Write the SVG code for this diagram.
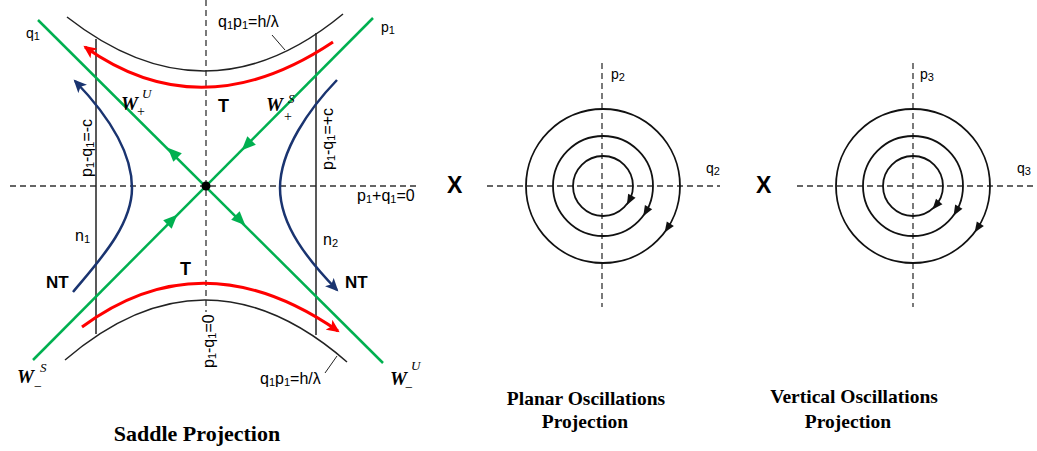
<svg xmlns="http://www.w3.org/2000/svg" width="1037" height="451" viewBox="0 0 1037 451">
<style>
.dash{stroke:#333;stroke-width:1.3;stroke-dasharray:6 4;fill:none}
.blk{stroke:#222;stroke-width:1.5;fill:none}
.grn{stroke:#00b050;stroke-width:2.5;fill:none}
.red{stroke:#ff0000;stroke-width:3;fill:none}
.nav{stroke:#1a3470;stroke-width:2.5;fill:none}
.circ{stroke:#111;stroke-width:1.8;fill:none}
.lbl{font-family:"Liberation Sans",Arial,sans-serif;font-size:16px;fill:#000}
.sm{font-size:14px}
.sub{font-size:11px}
.bold{font-family:"Liberation Sans",Arial,sans-serif;font-weight:bold;fill:#000}
.w{font-family:"Liberation Serif","Times New Roman",serif;font-weight:bold;font-style:italic;font-size:19px;fill:#000}
.sup{font-family:"Liberation Serif","Times New Roman",serif;font-style:italic;font-size:13px;fill:#000}
.pm{font-family:"Liberation Serif","Times New Roman",serif;font-size:14px;fill:#000}
.cap{font-family:"Liberation Serif","Times New Roman",serif;font-weight:bold;fill:#000;text-anchor:middle}
</style>
<defs>
<marker id="ar" markerUnits="userSpaceOnUse" markerWidth="14" markerHeight="12" refX="11" refY="6" orient="auto"><path d="M0,0 L13,6 L0,12 L3,6 z" fill="#ff0000"/></marker>
<marker id="an" markerUnits="userSpaceOnUse" markerWidth="14" markerHeight="12" refX="11" refY="6" orient="auto"><path d="M0,0 L13,6 L0,12 L3,6 z" fill="#1a3470"/></marker>
<path id="ga" d="M7.5,0 L-6.5,-6 L-6.5,6 Z" fill="#00b050"/>
<path id="ca" d="M5.5,0 L-5,-4.2 L-5,4.2 Z" fill="#111"/>
</defs>

<g id="saddle-axes">
<line class="dash" x1="10" y1="186" x2="418" y2="186"/>
<line class="dash" x1="206" y1="0" x2="206" y2="312"/>
</g>

<g id="hyperbolas">
<path class="blk" d="M67,17 Q207,126.5 343,14"/>
<path class="blk" d="M65,360 Q206,239 347,362"/>
<line class="blk" x1="96" y1="39" x2="96" y2="334"/>
<line class="blk" x1="316" y1="33" x2="316" y2="335"/>
<line stroke="#222" stroke-width="1" x1="272" y1="35" x2="285" y2="50"/>
<line stroke="#222" stroke-width="1" x1="325" y1="373" x2="337" y2="356"/>
</g>

<g id="connectors">
<line class="grn" x1="38" y1="20" x2="383" y2="363"/>
<line class="grn" x1="373" y1="18" x2="33" y2="360"/>
<use href="#ga" transform="translate(173,153) rotate(-135)"/>
<use href="#ga" transform="translate(247,145) rotate(135)"/>
<use href="#ga" transform="translate(172,220) rotate(-45)"/>
<use href="#ga" transform="translate(240,220) rotate(45)"/>
<path class="red" d="M333,42 Q201.5,130 85,47" marker-end="url(#ar)"/>
<path class="red" d="M82,327 Q203,237.5 338,331" marker-end="url(#ar)"/>
<path class="nav" d="M73,292 C98,262 132,226 132,188 C132,150 105,112 75,81" marker-end="url(#an)"/>
<path class="nav" d="M337,80 C310,108 280,150 280,188 C280,226 309,261 337,290" marker-end="url(#an)"/>
<circle cx="206" cy="186" r="4.5" fill="#000"/>
</g>

<g id="saddle-labels">
<text class="lbl sm" x="26" y="38">q<tspan class="sub" dy="2">1</tspan></text>
<text class="lbl sm" x="381" y="32">p<tspan class="sub" dy="2">1</tspan></text>
<text class="lbl" x="218" y="27">q<tspan class="sub" dy="2">1</tspan><tspan dy="-2">p</tspan><tspan class="sub" dy="2">1</tspan><tspan dy="-2">=h/λ</tspan></text>
<text class="lbl" x="260" y="384">q<tspan class="sub" dy="2">1</tspan><tspan dy="-2">p</tspan><tspan class="sub" dy="2">1</tspan><tspan dy="-2">=h/λ</tspan></text>
<text class="lbl" x="357" y="201">p<tspan class="sub" dy="2">1</tspan><tspan dy="-2">+q</tspan><tspan class="sub" dy="2">1</tspan><tspan dy="-2">=0</tspan></text>
<text class="lbl" transform="translate(92,177) rotate(-90)">p<tspan class="sub" dy="2">1</tspan><tspan dy="-2">-q</tspan><tspan class="sub" dy="2">1</tspan><tspan dy="-2">=-c</tspan></text>
<text class="lbl" transform="translate(333,170) rotate(-90)">p<tspan class="sub" dy="2">1</tspan><tspan dy="-2">-q</tspan><tspan class="sub" dy="2">1</tspan><tspan dy="-2">=+c</tspan></text>
<text class="lbl" transform="translate(214,368) rotate(-90)">p<tspan class="sub" dy="2">1</tspan><tspan dy="-2">-q</tspan><tspan class="sub" dy="2">1</tspan><tspan dy="-2">=0</tspan></text>
<text class="lbl" x="75" y="241">n<tspan class="sub" dy="2">1</tspan></text>
<text class="lbl" x="323" y="245">n<tspan class="sub" dy="2">2</tspan></text>
<text class="bold" font-size="18" x="218" y="112">T</text>
<text class="bold" font-size="18" x="180" y="275">T</text>
<text class="bold" font-size="17" x="46" y="288">NT</text>
<text class="bold" font-size="17" x="345" y="288">NT</text>
<text class="w" x="121" y="110">W</text><text class="sup" x="142" y="98">U</text><text class="pm" x="137" y="116">+</text>
<text class="w" x="266" y="111">W</text><text class="sup" x="288" y="103">S</text><text class="pm" x="284" y="121">+</text>
<text class="w" x="17" y="383">W</text><text class="sup" x="40" y="372">S</text><text class="pm" x="34" y="391">−</text>
<text class="w" x="390" y="385">W</text><text class="sup" x="411" y="370">U</text><text class="pm" x="405" y="392">−</text>
<text class="cap" font-size="22" x="197" y="441">Saddle Projection</text>
</g>

<g id="planar">
<line class="dash" x1="602" y1="63" x2="602" y2="307"/>
<line class="dash" x1="487" y1="186" x2="720" y2="186"/>
<circle class="circ" cx="603" cy="186" r="77"/>
<circle class="circ" cx="603" cy="186" r="50"/>
<circle class="circ" cx="603" cy="186" r="30"/>
<use href="#ca" transform="translate(629.5,200.1) rotate(118)"/>
<use href="#ca" transform="translate(646,211.5) rotate(120.6)"/>
<use href="#ca" transform="translate(667.6,227.9) rotate(123)"/>
<text class="lbl sm" x="611" y="79">p<tspan class="sub" dy="2">2</tspan></text>
<text class="lbl sm" x="706" y="173">q<tspan class="sub" dy="2">2</tspan></text>
<text class="bold" font-size="23" x="447" y="193">X</text>
<text class="cap" font-size="19.5" x="586" y="405">Planar Oscillations</text>
<text class="cap" font-size="19.5" x="585" y="428">Projection</text>
</g>

<g id="vertical">
<line class="dash" x1="913" y1="63" x2="913" y2="307"/>
<line class="dash" x1="797" y1="186" x2="1037" y2="186"/>
<circle class="circ" cx="913" cy="186" r="77"/>
<circle class="circ" cx="913" cy="186" r="50"/>
<circle class="circ" cx="913" cy="186" r="30"/>
<use href="#ca" transform="translate(936,205.3) rotate(130)"/>
<use href="#ca" transform="translate(956.3,211) rotate(120)"/>
<use href="#ca" transform="translate(977.6,227.9) rotate(123)"/>
<text class="lbl sm" x="920" y="79">p<tspan class="sub" dy="2">3</tspan></text>
<text class="lbl sm" x="1017" y="173">q<tspan class="sub" dy="2">3</tspan></text>
<text class="bold" font-size="23" x="756" y="193">X</text>
<text class="cap" font-size="19.5" x="854" y="403">Vertical Oscillations</text>
<text class="cap" font-size="19.5" x="848" y="428">Projection</text>
</g>
</svg>
